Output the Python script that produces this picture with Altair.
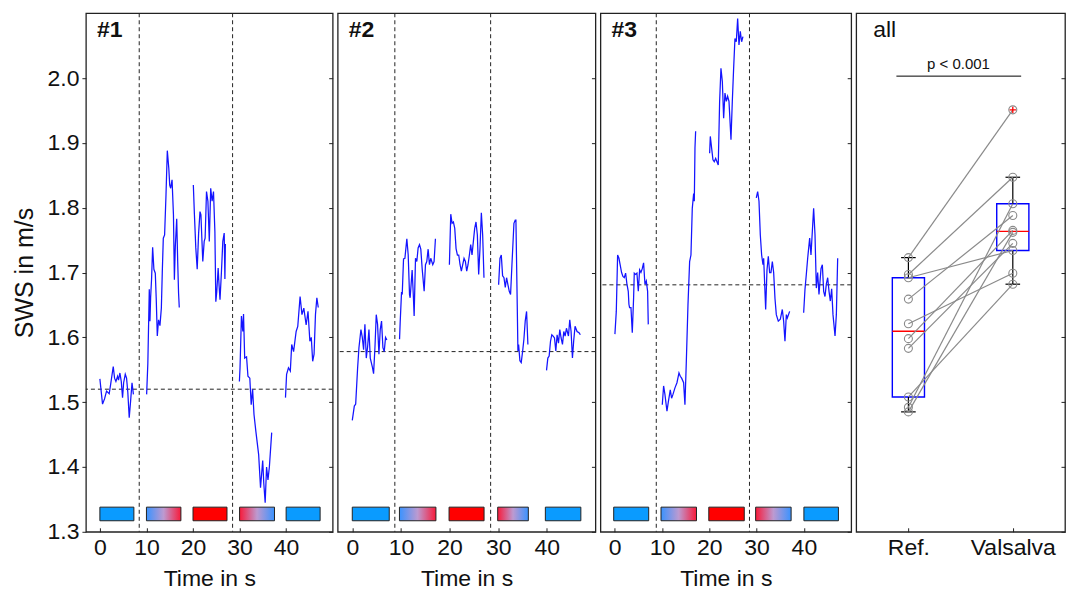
import altair as alt
import pandas as pd
import numpy as np

# ---------------- data ----------------
P1_T = [0.0, 0.3, 0.57, 1.0, 1.43, 2.0, 2.3, 2.87, 3.15, 3.44, 3.8, 4.0, 4.3, 4.59, 4.87, 5.1, 5.45, 5.73, 6.0, 6.3, 6.6, 6.9, 7.2,
        10.04, 10.3, 10.61, 10.75, 10.9, 11.1, 11.33, 11.6, 11.9, 12.1, 12.33, 12.6, 12.9, 13.2, 13.4, 13.62, 13.9, 14.2, 14.48, 14.8, 15.0, 15.2, 15.5, 15.8, 16.0, 16.2, 16.5, 16.7, 16.9, 17.05,
        20.07, 20.3, 20.6, 20.9, 21.2, 21.5, 21.7, 21.9, 22.1, 22.4, 22.6, 22.9, 23.2, 23.5, 23.8, 24.1, 24.4, 24.7, 24.9, 25.1, 25.4, 25.6, 25.8, 26.1, 26.4, 26.7, 26.85, 26.95,
        29.96, 30.1, 30.4, 30.7, 30.85, 31.1, 31.5, 31.8, 32.2, 32.5, 32.8, 33.1, 33.5, 34.1, 34.5, 34.97, 35.2, 35.5, 35.8, 36.1, 36.4, 36.9,
        39.86, 40.1, 40.5, 40.9, 41.2, 41.6, 42.15, 42.5, 43.0, 43.4, 43.8, 44.3, 44.7, 45.1, 45.4, 45.7, 46.0, 46.3, 46.6, 46.9]
P1_V = [1.536, 1.515, 1.497, 1.505, 1.517, 1.513, 1.527, 1.555, 1.537, 1.532, 1.540, 1.534, 1.545, 1.532, 1.507, 1.530, 1.543, 1.537, 1.515, 1.476, 1.502, 1.530, 1.512,
        1.512, 1.560, 1.674, 1.625, 1.662, 1.690, 1.739, 1.705, 1.699, 1.660, 1.602, 1.627, 1.618, 1.645, 1.700, 1.753, 1.758, 1.820, 1.888, 1.861, 1.835, 1.830, 1.843, 1.789, 1.689, 1.740, 1.783, 1.720, 1.668, 1.646,
        1.835, 1.790, 1.738, 1.705, 1.760, 1.794, 1.789, 1.753, 1.717, 1.748, 1.753, 1.825, 1.810, 1.748, 1.830, 1.810, 1.825, 1.763, 1.655, 1.670, 1.707, 1.680, 1.658, 1.700, 1.748, 1.761, 1.690, 1.744,
        1.532, 1.553, 1.633, 1.609, 1.636, 1.568, 1.570, 1.540, 1.537, 1.496, 1.520, 1.481, 1.455, 1.419, 1.368, 1.410, 1.375, 1.345, 1.400, 1.380, 1.400, 1.453,
        1.507, 1.543, 1.553, 1.548, 1.589, 1.578, 1.609, 1.617, 1.663, 1.635, 1.645, 1.619, 1.640, 1.594, 1.600, 1.563, 1.574, 1.635, 1.661, 1.646]

P2_T = [0.0, 0.42, 0.7, 1.1, 1.37, 1.78, 2.06, 2.33, 2.6, 2.88, 3.15, 3.43, 3.7, 4.11, 4.38, 4.66, 4.93, 5.2, 5.48, 5.75, 6.02, 6.3, 6.57, 6.84, 7.12,
        9.72, 9.86, 10.13, 10.27, 10.54, 10.82, 11.22, 11.5, 11.77, 11.9, 12.31, 12.58, 12.72, 13.0, 13.27, 13.54, 13.82, 14.09, 14.37, 14.78, 15.05, 15.32, 15.6, 15.87, 16.14, 16.55, 16.82, 17.1,
        19.97, 20.25, 20.52, 20.79, 21.07, 21.34, 21.62, 21.89, 22.16, 22.43, 22.71, 22.98, 23.26, 23.53, 23.8, 24.08, 24.35, 24.62, 24.9, 25.17, 25.44, 25.72, 25.99, 26.26, 26.54, 26.81, 27.08,
        30.09, 30.37, 30.64, 30.91, 31.19, 31.46, 31.73, 32.01, 32.28, 32.55, 32.83, 33.24, 33.51, 33.65, 33.92, 34.06, 34.2, 34.47, 34.74, 35.02, 35.29, 35.56, 35.84, 36.11,
        39.94, 40.21, 40.48, 40.76, 41.03, 41.3, 41.58, 41.85, 42.12, 42.4, 42.67, 42.94, 43.22, 43.49, 43.76, 44.04, 44.45, 44.72, 44.99, 45.27, 45.54, 45.81, 46.22, 46.63, 46.9]
P2_V = [1.472, 1.494, 1.497, 1.553, 1.584, 1.612, 1.600, 1.581, 1.620, 1.568, 1.585, 1.612, 1.568, 1.555, 1.544, 1.584, 1.635, 1.620, 1.574, 1.612, 1.625, 1.584, 1.578, 1.600, 1.596,
        1.597, 1.625, 1.670, 1.666, 1.721, 1.722, 1.752, 1.727, 1.666, 1.661, 1.704, 1.660, 1.633, 1.722, 1.717, 1.738, 1.743, 1.736, 1.706, 1.671, 1.712, 1.717, 1.736, 1.712, 1.722, 1.712, 1.717, 1.752,
        1.712, 1.790, 1.776, 1.778, 1.768, 1.737, 1.727, 1.727, 1.712, 1.702, 1.712, 1.722, 1.717, 1.702, 1.712, 1.727, 1.743, 1.727, 1.748, 1.768, 1.778, 1.758, 1.697, 1.737, 1.792, 1.758, 1.692,
        1.681, 1.722, 1.727, 1.695, 1.692, 1.677, 1.692, 1.681, 1.671, 1.666, 1.712, 1.776, 1.781, 1.781, 1.650, 1.579, 1.589, 1.564, 1.561, 1.578, 1.597, 1.625, 1.640, 1.589,
        1.549, 1.568, 1.571, 1.594, 1.604, 1.602, 1.599, 1.579, 1.604, 1.591, 1.612, 1.599, 1.589, 1.609, 1.602, 1.614, 1.602, 1.627, 1.609, 1.568, 1.596, 1.617, 1.609, 1.607, 1.604]

P3_T = [0.06, 0.35, 0.63, 0.91, 1.19, 1.47, 1.75, 2.04, 2.32, 2.6, 2.88, 3.02, 3.16, 3.45, 3.73, 4.01, 4.15, 4.43, 4.71, 5.0, 5.28, 5.56, 5.84, 6.12, 6.41, 6.69, 6.97, 7.11,
        10.07, 10.35, 10.63, 11.06, 11.34, 11.76, 12.04, 12.33, 12.75, 13.17, 13.6, 13.88, 14.16, 14.58, 14.86, 15.14, 15.5, 15.85, 16.13, 16.41, 16.7, 16.84, 16.98, 17.12,
        20.08, 20.22, 20.5, 20.78, 21.06, 21.35, 21.63, 21.9, 22.19, 22.47, 22.76, 23.04, 23.32, 23.6, 23.88, 24.17, 24.59, 24.87, 25.15, 25.43, 25.71, 26.0, 26.28, 26.56, 26.84, 27.12,
        29.94, 30.23, 30.51, 30.79, 31.07, 31.35, 31.5, 31.92, 32.2, 32.48, 32.76, 33.04, 33.33, 33.61, 33.89, 34.17, 34.59, 35.02, 35.44, 35.72, 36.0, 36.29, 36.5, 36.99,
        39.95, 40.23, 40.51, 40.8, 41.22, 41.5, 41.78, 42.06, 42.35, 42.63, 42.91, 43.19, 43.4, 43.62, 43.9, 44.18, 44.46, 44.74, 45.03, 45.31, 45.59, 45.87, 46.15, 46.58, 46.86, 47.14]
P3_V = [1.605, 1.640, 1.727, 1.722, 1.711, 1.700, 1.694, 1.692, 1.699, 1.682, 1.671, 1.651, 1.646, 1.646, 1.607, 1.661, 1.699, 1.697, 1.699, 1.671, 1.704, 1.700, 1.706, 1.715, 1.682, 1.687, 1.671, 1.620,
        1.496, 1.525, 1.512, 1.486, 1.500, 1.519, 1.506, 1.512, 1.522, 1.530, 1.545, 1.540, 1.537, 1.530, 1.496, 1.560, 1.650, 1.717, 1.727, 1.799, 1.822, 1.810, 1.892, 1.918,
        1.884, 1.910, 1.892, 1.874, 1.871, 1.876, 1.871, 1.866, 1.964, 2.015, 1.995, 1.938, 1.977, 1.964, 1.972, 1.964, 1.905, 1.964, 2.015, 2.061, 2.056, 2.092, 2.051, 2.072, 2.056, 2.064,
        1.815, 1.825, 1.810, 1.758, 1.727, 1.712, 1.722, 1.643, 1.704, 1.725, 1.700, 1.700, 1.717, 1.700, 1.660, 1.635, 1.625, 1.628, 1.643, 1.625, 1.594, 1.635, 1.630, 1.640,
        1.638, 1.674, 1.697, 1.722, 1.753, 1.727, 1.763, 1.799, 1.758, 1.676, 1.700, 1.666, 1.686, 1.706, 1.712, 1.671, 1.663, 1.682, 1.692, 1.671, 1.656, 1.675, 1.635, 1.602, 1.635, 1.722]

PANEL_LABELS = ["#1", "#2", "#3"]
BASELINES = [1.52, 1.578, 1.681]
VLINES = [[8.45, 28.5], [8.75, 28.45], [8.8, 28.5]]
PHASE_KINDS = ["rest", "onset", "strain", "release", "rest"]
PHASE_START = [[0, 10, 20, 30, 40], [0, 9.7, 19.9, 29.9, 39.7], [-0.2, 9.8, 19.9, 29.8, 40.0]]
PHASE_END = [[7.3, 17.4, 27.3, 37.5, 47.3], [7.6, 17.2, 27.1, 36.2, 47.0], [7.2, 17.3, 27.4, 37.3, 47.3]]
BAR_LO, BAR_HI = 1.317, 1.338

GROUPS = ["Ref.", "Valsalva"]
REF = [1.723, 1.697, 1.692, 1.659, 1.621, 1.598, 1.583, 1.508, 1.492, 1.485]
VAL = [1.951, 1.847, 1.734, 1.788, 1.699, 1.765, 1.745, 1.682, 1.806, 1.762]
P_TEXT = "p < 0.001"

# ---------------- style ----------------
FONT = "Liberation Sans"
LINE_BLUE = "#1414ff"
BAR_BLUE = "#0a9bff"
BAR_RED = "#ff0000"
INK = "#222222"
Y_DOMAIN = [1.3, 2.1]
Y_TICKS = [1.3, 1.4, 1.5, 1.6, 1.7, 1.8, 1.9, 2.0]
X_DOMAIN = [-3, 50]
X_TICKS = [0, 10, 20, 30, 40]
H = 519
WIDTHS = [247, 258, 251, 209]

GRAD_UP = alt.Gradient(gradient="linear", x1=0, x2=1, y1=0, y2=0,
                       stops=[alt.GradientStop(color="#3a93ff", offset=0),
                              alt.GradientStop(color="#bd9ad0", offset=0.5),
                              alt.GradientStop(color="#f81a3a", offset=1)])
GRAD_DOWN = alt.Gradient(gradient="linear", x1=0, x2=1, y1=0, y2=0,
                         stops=[alt.GradientStop(color="#f81a3a", offset=0),
                                alt.GradientStop(color="#bd9ad0", offset=0.5),
                                alt.GradientStop(color="#3a93ff", offset=1)])

ys = alt.Scale(domain=Y_DOMAIN, nice=False, zero=False)


def y_left_axis():
    return alt.Axis(values=Y_TICKS, format=".1f", title="SWS in m/s", tickSize=4, domain=False,
                    grid=False, labelFontSize=23, titleFontSize=25, labelPadding=3,
                    titlePadding=9, labelFlush=False, labelOverlap=False)


def y_right_axis():
    return alt.Axis(orient="right", values=Y_TICKS, labels=False, title=None, tickSize=4,
                    offset=-4, domain=False, grid=False)


def x_time_axis():
    return alt.Axis(values=X_TICKS, title="Time in s", offset=-4, tickSize=4, domain=False,
                    grid=False, labelFontSize=23, titleFontSize=23, labelPadding=5,
                    titlePadding=8, labelFlush=False, labelOverlap=False)


def time_panel(i, show_y):
    T = [P1_T, P2_T, P3_T][i]
    V = [P1_V, P2_V, P3_V][i]
    df = pd.DataFrame({"t": T, "v": V})
    df["seg"] = ((df["t"] + 0.5) // 10).astype(int)
    xs = alt.Scale(domain=X_DOMAIN, nice=False, zero=False)

    def X(f):
        return alt.X(f, type="quantitative", scale=xs, axis=x_time_axis())

    bars = pd.DataFrame({"start": PHASE_START[i], "end": PHASE_END[i], "kind": PHASE_KINDS})
    bars["lo"] = BAR_LO
    bars["hi"] = BAR_HI

    def bar_enc(ch):
        return ch.encode(x=X("start"), x2="end",
                         y=alt.Y("lo:Q", scale=ys, axis=None), y2="hi")

    solid = bar_enc(alt.Chart(bars).transform_filter(
        "datum.kind == 'rest' || datum.kind == 'strain'").mark_rect(stroke=INK, strokeWidth=1)).encode(
        fill=alt.Fill("kind:N", scale=alt.Scale(domain=["rest", "strain"], range=[BAR_BLUE, BAR_RED]),
                      legend=None))
    up = bar_enc(alt.Chart(bars).transform_filter("datum.kind == 'onset'").mark_rect(
        fill=GRAD_UP, stroke=INK, strokeWidth=1))
    down = bar_enc(alt.Chart(bars).transform_filter("datum.kind == 'release'").mark_rect(
        fill=GRAD_DOWN, stroke=INK, strokeWidth=1))

    vl = alt.Chart(pd.DataFrame({"x": VLINES[i]})).mark_rule(
        strokeDash=[4, 3], color=INK, strokeWidth=1).encode(x=X("x"))
    hl = alt.Chart(pd.DataFrame({"b": [BASELINES[i]]})).mark_rule(
        strokeDash=[4, 3], color=INK, strokeWidth=1).encode(
        y=alt.Y("b:Q", scale=ys, axis=y_right_axis()))
    line = alt.Chart(df).mark_line(color=LINE_BLUE, strokeWidth=1.25).encode(
        x=X("t"), y=alt.Y("v:Q", scale=ys, axis=y_left_axis() if show_y else None),
        detail="seg:N")
    txt = alt.Chart(pd.DataFrame({"s": [PANEL_LABELS[i]]})).mark_text(
        font=FONT, fontSize=23, fontWeight="bold", align="left", baseline="middle", color="#111").encode(
        text="s:N", x=alt.value(11), y=alt.value(17))
    return alt.layer(hl, vl, solid, up, down, line, txt).resolve_axis(y="independent").properties(
        width=WIDTHS[i], height=H)


def q_hazen(a, p):
    return float(np.percentile(a, p, method="hazen"))


def all_panel():
    n = len(REF)
    long = pd.DataFrame({
        "pair": list(range(n)) * 2,
        "group": [GROUPS[0]] * n + [GROUPS[1]] * n,
        "pos": [1] * n + [2] * n,
        "value": REF + VAL,
    })
    rows = []
    outl = []
    for k, vals in enumerate([REF, VAL]):
        q1, med, q3 = q_hazen(vals, 25), q_hazen(vals, 50), q_hazen(vals, 75)
        iqr = q3 - q1
        inside = [v for v in vals if q1 - 1.5 * iqr <= v <= q3 + 1.5 * iqr]
        pos = k + 1
        rows.append(dict(pos=pos, q1=q1, q3=q3, med=med, wlo=min(inside), whi=max(inside),
                         bl=pos - 0.154, br=pos + 0.154, cl=pos - 0.07, cr=pos + 0.07))
        for v in vals:
            if v not in inside:
                outl.append(dict(pos=pos, value=v))
    st = pd.DataFrame(rows)
    od = pd.DataFrame(outl)

    xs = alt.Scale(domain=[0.5, 2.5], nice=False, zero=False)
    label_expr = "datum.value == 1 ? '%s' : '%s'" % (GROUPS[0], GROUPS[1])
    xax = alt.Axis(values=[1, 2], labelExpr=label_expr, title=None, offset=-4, tickSize=4,
                   domain=False, grid=False, labelFontSize=23, labelPadding=5,
                   labelFlush=False, labelOverlap=False)

    def X(f):
        return alt.X(f, type="quantitative", scale=xs, axis=xax)

    def Y(f):
        return alt.Y(f, type="quantitative", scale=ys, axis=None)

    box = alt.Chart(st).mark_rect(fill="white", fillOpacity=0, stroke="#0000ff", strokeWidth=1.4).encode(
        x=X("bl"), x2="br", y=Y("q1"), y2="q3")
    medl = alt.Chart(st).mark_rule(color="#ff0000", strokeWidth=1.4).encode(x=X("bl"), x2="br", y=Y("med"))
    wup = alt.Chart(st).mark_rule(color="#000000", strokeWidth=1.2).encode(x=X("pos"), y=Y("q3"), y2="whi")
    wdn = alt.Chart(st).mark_rule(color="#000000", strokeWidth=1.2).encode(x=X("pos"), y=Y("wlo"), y2="q1")
    cup = alt.Chart(st).mark_rule(color="#000000", strokeWidth=1.2).encode(x=X("cl"), x2="cr", y=Y("whi"))
    cdn = alt.Chart(st).mark_rule(color="#000000", strokeWidth=1.2).encode(x=X("cl"), x2="cr", y=Y("wlo"))
    lines = alt.Chart(long).mark_line(color="#8a8a8a", strokeWidth=1.2).encode(
        x=X("pos"), y=Y("value"), detail="pair:N")
    pts = alt.Chart(long).mark_point(shape="circle", size=64, filled=False, color="#8a8a8a",
                                     strokeWidth=1.1, opacity=1).encode(
        x=X("pos"), y=alt.Y("value:Q", scale=ys, axis=y_right_axis()))
    outm = alt.Chart(od).mark_point(shape="M-1,0L1,0M0,-1L0,1", size=40, filled=False,
                                    color="#ff0000", strokeWidth=1.3, opacity=1).encode(
        x=X("pos"), y=Y("value"))
    pline = alt.Chart(pd.DataFrame({"a": [0.885], "b": [2.08], "y": [2.003]})).mark_rule(
        color="#000000", strokeWidth=1).encode(x=X("a"), x2="b", y=Y("y"))
    ptxt = alt.Chart(pd.DataFrame({"x": [1.48], "y": [2.014], "s": [P_TEXT]})).mark_text(
        font=FONT, fontSize=15, baseline="alphabetic", align="center", color="#111").encode(
        x=X("x"), y=Y("y"), text="s:N")
    allt = alt.Chart(pd.DataFrame({"s": ["all"]})).mark_text(
        font=FONT, fontSize=23, align="left", baseline="middle", color="#111").encode(
        text="s:N", x=alt.value(17), y=alt.value(17))
    return alt.layer(box, medl, wup, wdn, cup, cdn, lines, pts, outm, pline, ptxt, allt).resolve_axis(
        y="independent").properties(width=WIDTHS[3], height=H)


panels = [time_panel(0, True), time_panel(1, False), time_panel(2, False), all_panel()]

chart = alt.hconcat(*panels, spacing=5, bounds="flush").properties(
    padding={"left": 12, "top": 11, "right": 5, "bottom": 4}
).configure_view(
    stroke="#222222", strokeWidth=1.3
).configure_axis(
    labelFont=FONT, titleFont=FONT, labelColor="#111111", titleColor="#111111",
    tickColor="#222222", titleFontWeight="normal"
)

chart.save("out.html", embed_options={"renderer": "svg", "actions": False})
